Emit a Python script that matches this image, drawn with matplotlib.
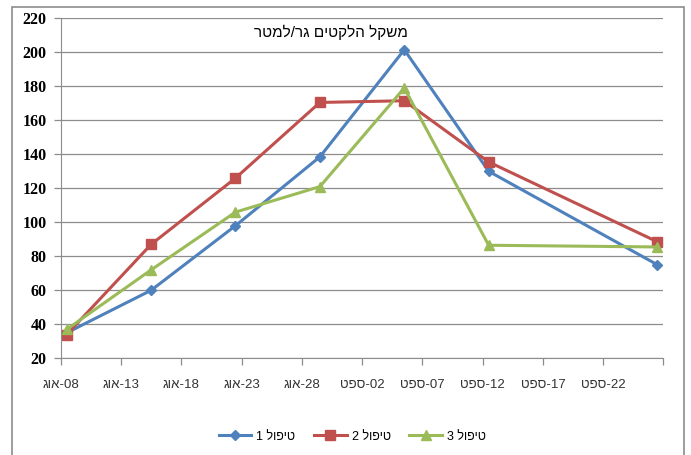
import matplotlib.pyplot as plt
import matplotlib.patches as mpatches
import pandas as pd
import numpy as np

# data (grams per meter)
dates = pd.to_datetime(['2011-08-08', '2011-08-15', '2011-08-22', '2011-08-29',
                        '2011-09-05', '2011-09-12', '2011-09-26'])
treat1 = [35, 60, 98, 138.5, 201.5, 130, 75]
treat2 = [34, 87, 126, 170.5, 171.5, 135.5, 88.5]
treat3 = [37, 72, 106, 121, 179, 86.5, 85.5]

series_names = ['טיפול 1', 'טיפול 2', 'טיפול 3']
title = 'משקל הלקטים גר/למטר'
month_names = {8: 'אוג', 9: 'ספט'}


def visual(s):
    # matplotlib has no bidi: feed hebrew in visual order
    return s[::-1]


plt.rcParams['font.family'] = ['Liberation Sans', 'DejaVu Sans']

fig = plt.figure(figsize=(6.91, 4.55), dpi=100)
ax = fig.add_axes([0.0878, 0.2125, 0.8724, 0.7473])

# excel date axis puts each point in the middle of its day
x = dates + pd.Timedelta(hours=12)
colors = ['#4F81BD', '#C0504D', '#9BBB59']
markers = ['D', 's', '^']
msizes = [5.5, 7.5, 7.5]
for vals, name, c, m, ms in zip([treat1, treat2, treat3], series_names, colors, markers, msizes):
    ax.plot(x, vals, color=c, marker=m, markersize=ms, linewidth=2.2,
            label=name.split()[1] + ' ' + visual(name.split()[0]))

start = pd.Timestamp('2011-08-08')
ticks = [start + pd.Timedelta(days=5 * i) for i in range(11)]
ax.set_xlim(ticks[0], ticks[-1])
ax.set_xticks(ticks)
labels = [visual(month_names[t.month]) + '-%02d' % t.day for t in ticks[:-1]] + ['']
ax.set_xticklabels(labels, fontsize=9.5, color='#333333')

ax.set_ylim(20, 220)
ax.set_yticks(np.arange(20, 221, 20))
for lab in ax.get_yticklabels():
    lab.set_fontfamily(['Liberation Serif', 'DejaVu Serif'])
    lab.set_fontweight('bold')
    lab.set_fontsize(11.5)

ax.grid(axis='y', color='#8c8c8c', linewidth=0.9)
ax.set_axisbelow(True)
for side in ['top', 'right']:
    ax.spines[side].set_visible(False)
for side in ['left', 'bottom']:
    ax.spines[side].set_color('#8c8c8c')
ax.tick_params(axis='both', direction='out', length=5, color='#8c8c8c', width=0.9)
ax.tick_params(axis='x', pad=10)
ax.tick_params(axis='y', pad=5)

fig.text(0.479, 0.928, visual(title), fontsize=11, ha='center', va='center')

fig.legend(loc='center', bbox_to_anchor=(0.51, 0.04), ncol=3, frameon=False,
           fontsize=9, handlelength=2.6, columnspacing=1.5, handletextpad=0.4)

# chart area border
border = mpatches.Rectangle((12 / 691, -0.05), 672 / 691, 1 - 7 / 455 + 0.05,
                            transform=fig.transFigure, fill=False,
                            edgecolor='#8c8c8c', linewidth=1.2, clip_on=False)
fig.patches.append(border)

fig.savefig('out.png', dpi=100)
